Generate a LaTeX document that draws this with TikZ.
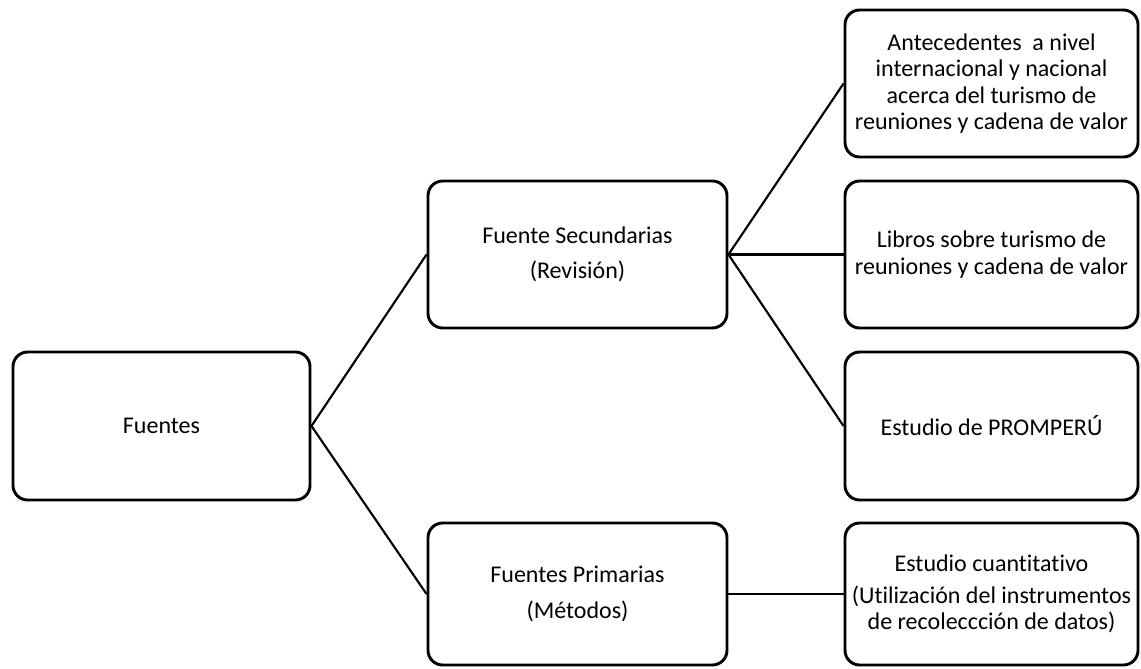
\documentclass[tikz,border=0pt]{standalone}
\usepackage{fontspec}
\setmainfont{Carlito}[RawFeature={-liga}]
\begin{document}
\begin{tikzpicture}[x=0.75pt,y=-0.75pt,
  box/.style={draw, line width=2.2pt, rounded corners=11pt, align=center, inner sep=0pt,
    font=\fontsize{18}{19.7}\selectfont},
  link/.style={line width=1.6pt}]
\useasboundingbox (0,0) rectangle (1141,668);
\node[box, minimum width=297*0.75pt, minimum height=148*0.75pt] (fu) at (161.5,426) {Fuentes};
\node[box, minimum width=299*0.75pt, minimum height=147*0.75pt] (sec) at (577.5,254.5) {Fuente Secundarias\\[7pt](Revisión)};
\node[box, minimum width=299*0.75pt, minimum height=142*0.75pt] (pri) at (577.5,594) {Fuentes Primarias\\[7pt](Métodos)};
\node[box, minimum width=293*0.75pt, minimum height=147*0.75pt] (r1) at (991.5,83.5) {Antecedentes~ a nivel\\internacional y nacional\\acerca del turismo de\\reuniones y cadena de valor};
\node[box, minimum width=293*0.75pt, minimum height=147*0.75pt] (r2) at (991.5,254.5) {Libros sobre turismo de\\reuniones y cadena de valor};
\node[box, minimum width=293*0.75pt, minimum height=148*0.75pt] (r3) at (991.5,426) {Estudio de PROMPERÚ};
\node[box, minimum width=293*0.75pt, minimum height=142*0.75pt] (r4) at (991.5,594) {Estudio cuantitativo\\[4.5pt](Utilización del instrumentos\\de recoleccción de datos)};
\draw[link] (fu.east) -- (sec.west);
\draw[link] (fu.east) -- (pri.west);
\draw[link] (sec.east) -- (r1.west);
\draw[link] (sec.east) -- (r2.west);
\draw[link] (sec.east) -- (r3.west);
\draw[link] (pri.east) -- (r4.west);
\end{tikzpicture}
\end{document}
